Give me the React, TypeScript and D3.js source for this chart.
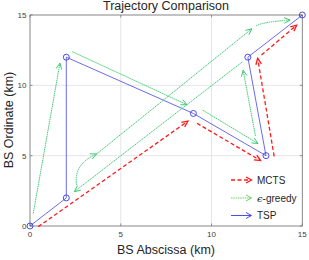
import React from "react";
import * as d3 from "d3";

const W = 309;
const H = 260;

// Axis ticks
const xTicks = [0, 5, 10, 15];
const yTicks = [0, 5, 10, 15];

// TSP route (nodes)
const tspX = [0, 2, 2, 9, 13, 12, 15];
const tspY = [0, 2, 12, 8, 5, 12, 15];

// MCTS arrows (start -> tip)
const mctsX0 = [0.45, 9.2, 13.45, 12.75];
const mctsY0 = [-0.05, 7.3, 4.95, 12.15];
const mctsX1 = [8.7, 12.7, 12.54, 14.69];
const mctsY1 = [7.45, 4.65, 11.92, 14.28];

// epsilon-greedy arrows (start -> tip, optional quadratic control point)
const grX0 = [0.18, 2.33, 9.51, 12.42, 11.7, 2.57, 3.67, 12.45];
const grY0 = [0.9, 12.39, 8.24, 6.4, 11.67, 2.91, 5.12, 14.23];
const grX1 = [1.65, 8.65, 12.56, 11.74, 2.44, 3.67, 12.22, 14.33];
const grY1 = [11.58, 8.62, 5.86, 11.08, 2.44, 5.12, 14.02, 14.64];
const grCX: (number | null)[] = [null, null, null, null, null, 2.38, null, 12.87];
const grCY: (number | null)[] = [null, null, null, null, null, 4.39, null, 14.52];

const legendLabels = ["MCTS", "greedy", "TSP"];

const RED = "#ff1a1a";
const GREEN = "#40c874";
const GREEN_LEG = "#6ccf62";
const BLUE = "#3a3ae6";
const FONT = "'Liberation Sans', Arial, Helvetica, sans-serif";

const x = d3.scaleLinear().domain([0, 15]).range([30, 302.3]);
const y = d3.scaleLinear().domain([0, 15]).range([226, 15]);

function head(tx: number, ty: number, dx: number, dy: number, len = 6, half = 2.8) {
  const L = Math.hypot(dx, dy) || 1;
  const ux = dx / L, uy = dy / L;
  const bx = tx - ux * len, by = ty - uy * len;
  const nx = -uy, ny = ux;
  return `M${bx + nx * half},${by + ny * half}L${tx},${ty}L${bx - nx * half},${by - ny * half}`;
}

function Arrow({ x0, y0, x1, y1, cx, cy, color, dash, width }: any) {
  const px0 = x(x0), py0 = y(y0), px1 = x(x1), py1 = y(y1);
  let d: string;
  let dx: number, dy: number;
  if (cx != null && cy != null) {
    const pcx = x(cx), pcy = y(cy);
    const p = d3.path();
    p.moveTo(px0, py0);
    p.quadraticCurveTo(pcx, pcy, px1, py1);
    d = p.toString();
    dx = px1 - pcx; dy = py1 - pcy;
  } else {
    const p = d3.path();
    p.moveTo(px0, py0);
    p.lineTo(px1, py1);
    d = p.toString();
    dx = px1 - px0; dy = py1 - py0;
  }
  return (
    <g>
      <path d={d} fill="none" stroke={color} strokeWidth={width} strokeDasharray={dash} />
      <path d={head(px1, py1, dx, dy)} fill="none" stroke={color} strokeWidth={width} />
    </g>
  );
}

export default function App() {
  const line = d3.line<number>().x((_, i) => x(tspX[i])).y((v) => y(v));
  const [x0, x1] = x.range();
  const [y0, y1] = y.range();
  const legendY = [180, 198, 215.5];
  const legendStyles = [
    { color: RED, dash: "4,2.5", width: 1.3 },
    { color: GREEN_LEG, dash: "1.5,0.8", width: 1 },
    { color: BLUE, dash: undefined, width: 0.9 },
  ];
  return (
    <svg
      width={W}
      height={H}
      style={{ position: "absolute", left: 0, top: 0, background: "#fff" }}
      fontFamily={FONT}
    >
      <rect x={0} y={0} width={W} height={H} fill="#fff" />
      {/* grid */}
      {xTicks.map((t) => (
        <line key={"gx" + t} x1={x(t)} x2={x(t)} y1={y0} y2={y1} stroke="#e6e6e6" strokeWidth={1} />
      ))}
      {yTicks.map((t) => (
        <line key={"gy" + t} x1={x0} x2={x1} y1={y(t)} y2={y(t)} stroke="#e6e6e6" strokeWidth={1} />
      ))}
      {/* box */}
      <rect x={x0} y={y1} width={x1 - x0} height={y0 - y1} fill="none" stroke="#7a7a7a" strokeWidth={0.8} />
      {/* ticks */}
      {xTicks.map((t) => (
        <g key={"tx" + t}>
          <line x1={x(t)} x2={x(t)} y1={y0} y2={y0 - 2.5} stroke="#7a7a7a" strokeWidth={0.8} />
          <line x1={x(t)} x2={x(t)} y1={y1} y2={y1 + 2.5} stroke="#7a7a7a" strokeWidth={0.8} />
          <text x={x(t)} y={237} fontSize={8} textAnchor="middle" fill="#404040">{t}</text>
        </g>
      ))}
      {yTicks.map((t) => (
        <g key={"ty" + t}>
          <line x1={x0} x2={x0 + 2.5} y1={y(t)} y2={y(t)} stroke="#7a7a7a" strokeWidth={0.8} />
          <line x1={x1} x2={x1 - 2.5} y1={y(t)} y2={y(t)} stroke="#7a7a7a" strokeWidth={0.8} />
          <text x={26.5} y={y(t) + 3} fontSize={8} textAnchor="end" fill="#404040">{t}</text>
        </g>
      ))}
      {/* TSP */}
      <path d={line(tspY) || ""} fill="none" stroke={BLUE} strokeWidth={0.75} />
      {tspX.map((v, i) => (
        <circle key={"c" + i} cx={x(v)} cy={y(tspY[i])} r={3} fill="none" stroke={BLUE} strokeWidth={0.9} />
      ))}
      {/* MCTS */}
      {mctsX0.map((_, i) => (
        <Arrow key={"m" + i} x0={mctsX0[i]} y0={mctsY0[i]} x1={mctsX1[i]} y1={mctsY1[i]} color={RED} dash="4,2.5" width={1.3} />
      ))}
      {/* greedy */}
      {grX0.map((_, i) => (
        <Arrow key={"g" + i} x0={grX0[i]} y0={grY0[i]} x1={grX1[i]} y1={grY1[i]} cx={grCX[i]} cy={grCY[i]} color={GREEN} dash="1.5,0.7" width={1} />
      ))}
      {/* legend */}
      {legendLabels.map((lab, i) => {
        const s = legendStyles[i];
        const ly = legendY[i];
        return (
          <g key={"l" + i}>
            <line x1={231} x2={251} y1={ly} y2={ly} stroke={s.color} strokeWidth={s.width} strokeDasharray={s.dash} />
            <path d={head(251.5, ly, 1, 0, 5.5, 3)} fill="none" stroke={s.color} strokeWidth={s.width} />
            <text x={257} y={ly + 3.6} fontSize={10} fill="#262626">
              {i === 1 ? (
                <>
                  <tspan fontStyle="italic" fontFamily="'DejaVu Serif', serif">ϵ</tspan>
                  <tspan>-{lab}</tspan>
                </>
              ) : (
                lab
              )}
            </text>
          </g>
        );
      })}
      {/* labels */}
      <text x={166} y={10} fontSize={12.5} textAnchor="middle" fill="#262626">Trajectory Comparison</text>
      <text x={166} y={254} fontSize={12.5} textAnchor="middle" fill="#262626">BS Abscissa (km)</text>
      <text transform={`translate(13,120) rotate(-90)`} fontSize={12.5} textAnchor="middle" fill="#262626">BS Ordinate (km)</text>
    </svg>
  );
}
